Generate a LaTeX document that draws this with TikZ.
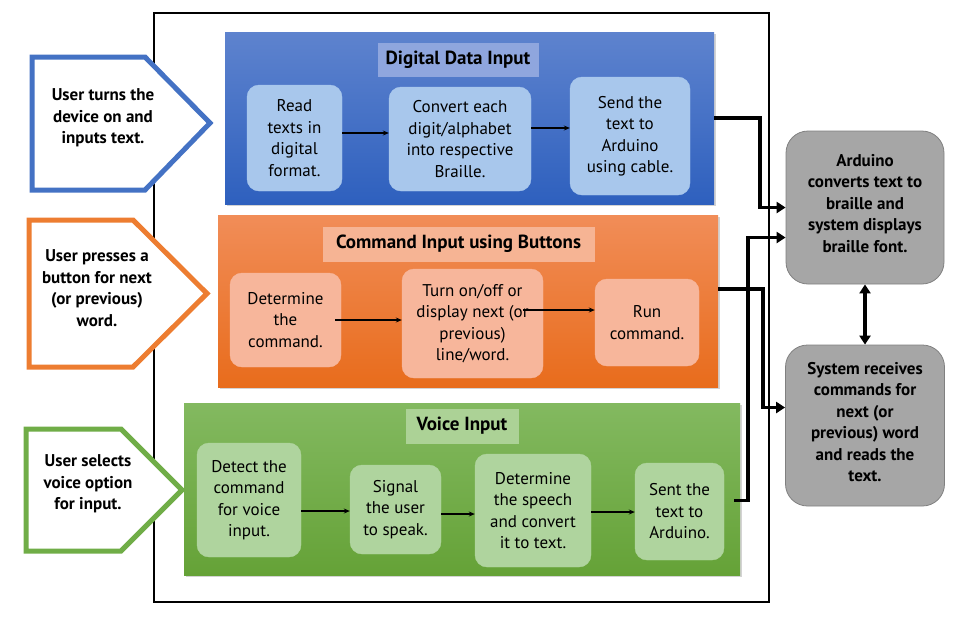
\documentclass[tikz,border=0pt]{standalone}
\usepackage{fontspec}
\setmainfont{PT Sans}
\usetikzlibrary{arrows.meta}
\usetikzlibrary{shadows}
\definecolor{blue-line}{RGB}{68,114,196}
\definecolor{orange-line}{RGB}{237,125,49}
\definecolor{green-line}{RGB}{112,173,71}
\definecolor{blue-top}{RGB}{94,131,206}
\definecolor{blue-bottom}{RGB}{46,96,190}
\definecolor{orange-top}{RGB}{241,141,88}
\definecolor{orange-bottom}{RGB}{232,108,28}
\definecolor{green-top}{RGB}{131,185,96}
\definecolor{green-bottom}{RGB}{101,162,55}
\definecolor{blue-title}{RGB}{143,166,222}
\definecolor{orange-title}{RGB}{246,180,148}
\definecolor{green-title}{RGB}{172,210,150}
\definecolor{blue-box}{RGB}{168,199,236}
\definecolor{orange-box}{RGB}{247,182,155}
\definecolor{green-box}{RGB}{175,212,158}
\definecolor{grey-box}{RGB}{166,166,166}
\definecolor{grey-line}{RGB}{128,128,128}

\begin{document}
\begin{tikzpicture}[x=1pt, y=-1pt,
    txt/.style={font=\fontsize{17}{21.5}\selectfont, align=center, inner sep=0pt},
    bold-txt/.style={font=\bfseries\fontsize{17}{21.5}\selectfont, align=center, inner sep=0pt},
    panel/.style={drop shadow={opacity=0.35, shadow xshift=1.5pt, shadow yshift=-2pt}},
    title/.style={font=\bfseries\fontsize{19}{20}\selectfont, inner sep=0pt, draw=#1, fill=#1},
    inbox/.style={txt, rounded corners=12pt, fill=#1, draw=#1},
    grey/.style={bold-txt, rounded corners=22pt, fill=grey-box, draw=grey-line, line width=0.8pt},
    step-arrow/.style={line width=1.3pt, -{Stealth[length=6pt, width=5pt]}},
    conn/.style={line width=3.5pt, -{Triangle[length=9pt, width=11pt]}}]

    \useasboundingbox (0,0) rectangle (957,619);

    % frame
    \draw[line width=1.5pt] (154,13) rectangle (769,602);

    % panels
    \node[panel, top color=blue-top, bottom color=blue-bottom, minimum width=489, minimum height=172] (digital) at (469.5,118) {};
    \node[panel, top color=orange-top, bottom color=orange-bottom, minimum width=500, minimum height=172] (command) at (468,301) {};
    \node[panel, top color=green-top, bottom color=green-bottom, minimum width=556, minimum height=172] (voice) at (462,489) {};

    \node[title=blue-title, minimum width=160, minimum height=33] (digital-title) at (458,59.5) {Digital Data Input};
    \node[title=orange-title, minimum width=271, minimum height=34] (command-title) at (458.5,244) {Command Input using Buttons};
    \node[title=green-title, minimum width=112, minimum height=34] (voice-title) at (462,426) {Voice Input};

    % digital data input
    \node[inbox=blue-box, minimum width=95, minimum height=106] (read) at (294.5,138) {Read\\texts in\\digital\\format.};
    \node[inbox=blue-box, minimum width=142, minimum height=104] (convert) at (460,139) {Convert each\\digit/alphabet\\into respective\\Braille.};
    \node[inbox=blue-box, minimum width=120, minimum height=118] (send) at (630,136) {Send the\\text to\\Arduino\\using cable.};

    \draw[step-arrow] ([yshift=5pt]read.east) -- ([yshift=5pt]read.east -| convert.west);
    \draw[step-arrow] ([yshift=11pt]convert.east) -- ([yshift=11pt]convert.east -| send.west);

    % command input
    \node[inbox=orange-box, minimum width=111, minimum height=94] (determine) at (285.5,320) {Determine\\the\\command.};
    \node[inbox=orange-box, minimum width=141, minimum height=109] (turn) at (472.5,323.5) {Turn on/off or\\display next (or\\previous)\\line/word.};
    \node[inbox=orange-box, minimum width=104, minimum height=87] (run) at (647,322.5) {Run\\command.};

    \draw[step-arrow] ([xshift=-6pt]determine.east) -- (determine.east -| turn.west);
    \draw[step-arrow] ([xshift=-20pt, yshift=13.5pt]turn.east) -- ([yshift=13.5pt]turn.east -| run.west);

    % voice input
    \node[inbox=green-box, minimum width=104, minimum height=114] (detect) at (249,500) {Detect the\\command\\for voice\\input.};
    \node[inbox=green-box, minimum width=91, minimum height=89] (signal) at (395.5,509.5) {Signal\\the user\\to speak.};
    \node[inbox=green-box, minimum width=116, minimum height=113] (speech) at (533,510.5) {Determine\\the speech\\and convert\\it to text.};
    \node[inbox=green-box, minimum width=89, minimum height=97] (sent) at (679.5,511.5) {Sent the\\text to\\Arduino.};

    \draw[step-arrow] ([yshift=-11pt]detect.east) -- ([yshift=-11pt]detect.east -| signal.west);
    \draw[step-arrow] ([yshift=-4.5pt]signal.east) -- ([yshift=-4.5pt]signal.east -| speech.west);
    \draw[step-arrow] ([yshift=-1.5pt]speech.east) -- ([yshift=-1.5pt]speech.east -| sent.west);

    % user actions
    \draw[blue-line, line width=5pt, fill=white] (32,57) -- (145,57) -- (210,123) -- (145,190) -- (32,190) -- cycle;
    \node[bold-txt] (user-on) at (103,118) {User turns the\\device on and\\inputs text.};

    \draw[orange-line, line width=5pt, fill=white] (29,220) -- (133,220) -- (207,293.5) -- (133,367) -- (29,367) -- cycle;
    \node[bold-txt] (user-button) at (97,288) {User presses a\\button for next\\(or previous)\\word.};

    \draw[green-line, line width=5pt, fill=white] (26,429) -- (121,429) -- (182,490) -- (121,551) -- (26,551) -- cycle;
    \node[bold-txt] (user-voice) at (88,484) {User selects\\voice option\\for input.};

    % arduino and system
    \node[grey, minimum width=158, minimum height=153] (arduino) at (865,207.5) {};
    \node[bold-txt] (arduino-text) at (865,203.5) {Arduino\\converts text to\\braille and\\system displays\\braille font.};
    \node[grey, minimum width=159, minimum height=161] (system) at (865,425.5) {};
    \node[bold-txt] (system-text) at (865,422) {System receives\\commands for\\next (or\\previous) word\\and reads the\\text.};

    \draw[conn] (digital.east) -- ++(46,0) |- (arduino.west);
    \draw[conn] ([xshift=10pt, yshift=11pt]sent.east) -- ++(14,0) |- ([yshift=-30pt]arduino.west);
    \draw[conn] ([yshift=12pt]command.east) -- ++(45,0) |- ([yshift=18pt]system.west);
    \draw[conn, {Triangle[length=9pt, width=11pt]}-{Triangle[length=9pt, width=11pt]}] (arduino.south) -- (system.north);

\end{tikzpicture}
\end{document}
